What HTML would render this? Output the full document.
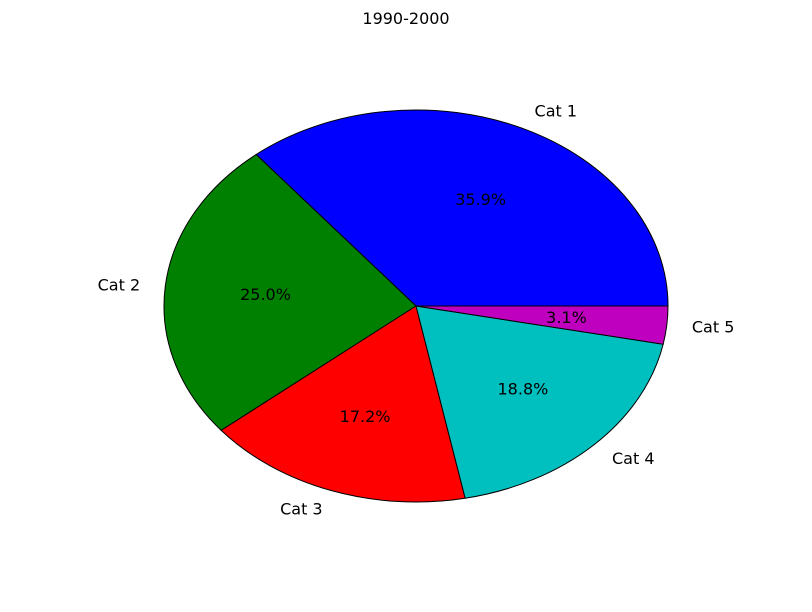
<!DOCTYPE html>
<html><head><meta charset="utf-8"><style>
html,body{margin:0;padding:0;background:#fff;}
svg{display:block;font-family:"DejaVu Sans","Liberation Sans",sans-serif;font-size:16px;}
</style></head><body>
<svg id="chart" width="812" height="612" viewBox="0 0 812 612">
<rect width="812" height="612" fill="#fff"/>
<text x="406" y="24" text-anchor="middle">1990-2000</text>
<g id="slices"></g>
<g id="labels"></g>
</svg>
<script>
const categories = ["Cat 1","Cat 2","Cat 3","Cat 4","Cat 5"];
const values = [23,16,11,12,2];
const colors = ["#0000ff","#008000","#ff0000","#00bfbf","#bf00bf"];
const cx=416, cy=306, rx=252, ry=196;
const NS="http://www.w3.org/2000/svg";
const total = values.reduce((a,b)=>a+b,0);
const sg=document.getElementById('slices'), lg=document.getElementById('labels');
function pt(a,r){return [cx+r*rx*Math.cos(a), cy-r*ry*Math.sin(a)];}
let start=0;
values.forEach((v,i)=>{
  const frac=v/total, end=start+frac*2*Math.PI;
  const p0=pt(start,1), p1=pt(end,1);
  const large=(end-start)>Math.PI?1:0;
  const path=document.createElementNS(NS,'path');
  path.setAttribute('d',`M${cx},${cy} L${p0[0]},${p0[1]} A${rx},${ry} 0 ${large} 0 ${p1[0]},${p1[1]} Z`);
  path.setAttribute('fill',colors[i]);
  path.setAttribute('stroke','#000');
  path.setAttribute('stroke-width','1');
  
  
  sg.appendChild(path);
  const mid=(start+end)/2;
  const lp=pt(mid,1.1);
  const t=document.createElementNS(NS,'text');
  t.setAttribute('x',lp[0]); t.setAttribute('y',lp[1]);
  t.setAttribute('text-anchor',Math.cos(mid)>=0?'start':'end');
  t.setAttribute('dominant-baseline','central');
  t.textContent=categories[i];
  
  
  lg.appendChild(t);
  const pp=pt(mid,0.6);
  const pt2=document.createElementNS(NS,'text');
  pt2.setAttribute('x',pp[0]); pt2.setAttribute('y',pp[1]);
  pt2.setAttribute('text-anchor','middle');
  pt2.setAttribute('dominant-baseline','central');
  pt2.textContent=(frac*100).toFixed(1)+'%';
  
  
  lg.appendChild(pt2);
  start=end;
});
</script>
</body></html>
